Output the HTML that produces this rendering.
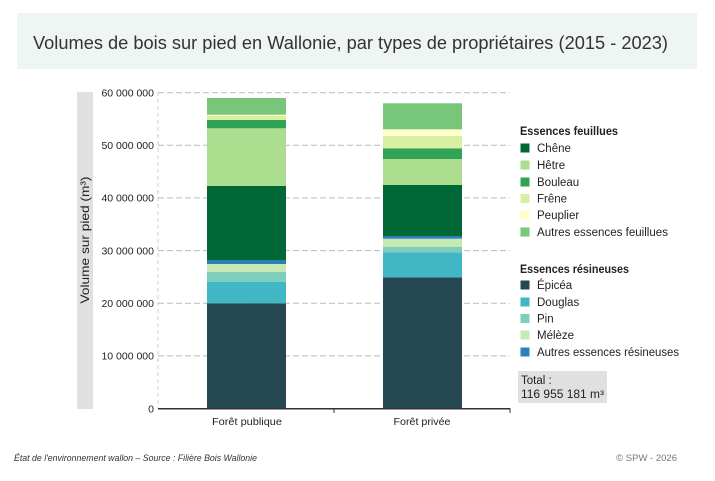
<!DOCTYPE html>
<html><head><meta charset="utf-8"><style>
html,body{margin:0;padding:0;background:#fff;}
body{width:715px;height:481px;overflow:hidden;}
svg{display:block;}
text{font-family:"Liberation Sans","DejaVu Sans",sans-serif;}
</style></head><body>
<svg width="715" height="481" viewBox="0 0 715 481" xmlns="http://www.w3.org/2000/svg">
<rect x="17" y="13" width="680" height="56" fill="#eff5f2"/>
<text x="33" y="49" font-size="18" fill="#333" textLength="635" lengthAdjust="spacingAndGlyphs">Volumes de bois sur pied en Wallonie, par types de propriétaires (2015 - 2023)</text>

<rect x="77" y="92" width="16" height="317" fill="#e0e0e0"/>
<text transform="translate(89,240) rotate(-90)" text-anchor="middle" font-size="12" fill="#222" textLength="127" lengthAdjust="spacingAndGlyphs">Volume sur pied (m³)</text>

<g stroke="#bbb" stroke-width="1" stroke-dasharray="6,3">
<line x1="158" y1="92.7" x2="510" y2="92.7"/>
<line x1="158" y1="145.3" x2="510" y2="145.3"/>
<line x1="158" y1="197.9" x2="510" y2="197.9"/>
<line x1="158" y1="250.6" x2="510" y2="250.6"/>
<line x1="158" y1="303.2" x2="510" y2="303.2"/>
<line x1="158" y1="355.9" x2="510" y2="355.9"/>
</g>
<line x1="158" y1="92" x2="158" y2="408" stroke="#ccc" stroke-width="1" stroke-dasharray="4,3"/>

<g font-size="10.5" fill="#222" text-anchor="end">
<text x="154" y="96.5">60 000 000</text>
<text x="154" y="149">50 000 000</text>
<text x="154" y="201.5">40 000 000</text>
<text x="154" y="254.5">30 000 000</text>
<text x="154" y="307">20 000 000</text>
<text x="154" y="359.5">10 000 000</text>
<text x="154" y="412.5">0</text>
</g>

<!-- Bar 1 -->
<g>
<rect x="207" y="303.3" width="79" height="105.2" fill="#264852"/>
<rect x="207" y="281.7" width="79" height="21.6" fill="#41b6c4"/>
<rect x="207" y="271.7" width="79" height="10" fill="#7fcdbb"/>
<rect x="207" y="264" width="79" height="7.7" fill="#c7e9b4"/>
<rect x="207" y="260" width="79" height="4" fill="#2c7fb8"/>
<rect x="207" y="186" width="79" height="74" fill="#006837"/>
<rect x="207" y="128.3" width="79" height="57.7" fill="#addd8e"/>
<rect x="207" y="120" width="79" height="8.3" fill="#31a354"/>
<rect x="207" y="116" width="79" height="4" fill="#d9f0a3"/>
<rect x="207" y="114.7" width="79" height="1.3" fill="#ffffcc"/>
<rect x="207" y="98" width="79" height="16.7" fill="#78c679"/>
</g>
<!-- Bar 2 -->
<g>
<rect x="383" y="277.3" width="79" height="131.2" fill="#264852"/>
<rect x="383" y="252.3" width="79" height="25" fill="#41b6c4"/>
<rect x="383" y="246.7" width="79" height="5.6" fill="#7fcdbb"/>
<rect x="383" y="238.7" width="79" height="8" fill="#c7e9b4"/>
<rect x="383" y="236" width="79" height="2.7" fill="#2c7fb8"/>
<rect x="383" y="185" width="79" height="51" fill="#006837"/>
<rect x="383" y="159" width="79" height="26" fill="#addd8e"/>
<rect x="383" y="148.3" width="79" height="10.7" fill="#31a354"/>
<rect x="383" y="136" width="79" height="12.3" fill="#d9f0a3"/>
<rect x="383" y="129.3" width="79" height="6.7" fill="#ffffcc"/>
<rect x="383" y="103.3" width="79" height="26" fill="#78c679"/>
</g>

<line x1="158" y1="408.7" x2="510" y2="408.7" stroke="#333" stroke-width="1.5"/>
<line x1="334" y1="408" x2="334" y2="413" stroke="#333" stroke-width="1"/>
<line x1="510" y1="408" x2="510" y2="413" stroke="#333" stroke-width="1"/>

<g font-size="10.5" fill="#222" text-anchor="middle">
<text x="247" y="425" textLength="70" lengthAdjust="spacingAndGlyphs">Forêt publique</text>
<text x="422" y="425" textLength="57" lengthAdjust="spacingAndGlyphs">Forêt privée</text>
</g>

<!-- Legend -->
<g font-size="11.5" fill="#222">
<text x="520" y="135" font-weight="bold" textLength="98" lengthAdjust="spacingAndGlyphs">Essences feuillues</text>
<rect x="520.5" y="143.5" width="9" height="9" fill="#006837"/><text x="537" y="152">Chêne</text>
<rect x="520.5" y="160.5" width="9" height="9" fill="#addd8e"/><text x="537" y="169">Hêtre</text>
<rect x="520.5" y="177.5" width="9" height="9" fill="#31a354"/><text x="537" y="186">Bouleau</text>
<rect x="520.5" y="194" width="9" height="9" fill="#d9f0a3"/><text x="537" y="202.5">Frêne</text>
<rect x="520.5" y="210.5" width="9" height="9" fill="#ffffcc"/><text x="537" y="219">Peuplier</text>
<rect x="520.5" y="227.5" width="9" height="9" fill="#78c679"/><text x="537" y="236" textLength="131" lengthAdjust="spacingAndGlyphs">Autres essences feuillues</text>

<text x="520" y="273" font-weight="bold" textLength="109" lengthAdjust="spacingAndGlyphs">Essences résineuses</text>
<rect x="520.5" y="280.5" width="9" height="9" fill="#264852"/><text x="537" y="289">Épicéa</text>
<rect x="520.5" y="297.5" width="9" height="9" fill="#41b6c4"/><text x="537" y="306">Douglas</text>
<rect x="520.5" y="314" width="9" height="9" fill="#7fcdbb"/><text x="537" y="322.5">Pin</text>
<rect x="520.5" y="330.5" width="9" height="9" fill="#c7e9b4"/><text x="537" y="339">Mélèze</text>
<rect x="520.5" y="347.5" width="9" height="9" fill="#2c7fb8"/><text x="537" y="356" textLength="142" lengthAdjust="spacingAndGlyphs">Autres essences résineuses</text>

<rect x="518" y="371" width="89" height="32" fill="#e0e0e0"/>
<text x="521" y="384">Total :</text>
<text x="521" y="398" textLength="83" lengthAdjust="spacingAndGlyphs">116 955 181 m³</text>
</g>

<text x="14" y="461" font-size="9" font-style="italic" fill="#333" textLength="243" lengthAdjust="spacingAndGlyphs">État de l'environnement wallon – Source : Filière Bois Wallonie</text>
<text x="677" y="461" font-size="9.5" fill="#777" text-anchor="end">© SPW - 2026</text>
</svg>
</body></html>
